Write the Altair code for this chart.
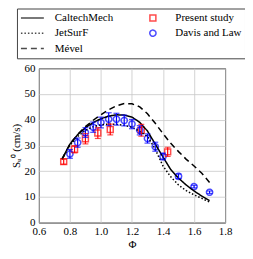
import altair as alt
import pandas as pd

# ---- data ----
phi_model = [0.75, 0.80, 0.85, 0.90, 0.95, 1.00, 1.05, 1.10, 1.15, 1.20,
             1.25, 1.30, 1.35, 1.40, 1.45, 1.50, 1.55, 1.60, 1.65, 1.70]
caltech = [24.8, 30.5, 34.2, 36.9, 38.9, 40.4, 41.4, 41.9, 41.8, 41.0,
           39.0, 35.6, 30.5, 25.5, 20.6, 17.3, 14.6, 12.3, 10.3, 8.5]
jetsurf = [24.6, 30.0, 33.5, 35.8, 37.3, 38.0, 38.3, 38.2, 37.8, 37.1,
           35.5, 33.5, 28.5, 22.0, 17.8, 14.6, 12.4, 10.8, 9.4, 8.0]
mevel = [24.8, 30.5, 34.3, 37.3, 39.8, 41.9, 43.9, 45.4, 46.3, 46.2,
         45.0, 42.3, 38.6, 34.6, 30.8, 27.6, 24.6, 22.0, 19.2, 15.6]
models = ["CaltechMech", "JetSurF", "Mével"]

phi_present = [0.76, 0.83, 0.90, 0.98, 1.06, 1.26, 1.43]
s_present = [23.7, 28.5, 32.6, 34.8, 36.2, 35.9, 27.5]
err_present = [1.0, 1.4, 2.0, 2.1, 2.1, 2.3, 1.8]

phi_davis = [0.80, 0.85, 0.90, 0.95, 1.00, 1.05, 1.10, 1.15, 1.20, 1.25,
             1.30, 1.35, 1.40, 1.50, 1.60, 1.70]
s_davis = [26.7, 31.1, 35.0, 37.1, 38.9, 40.2, 40.2, 39.7, 38.3, 35.9,
           32.7, 29.5, 25.7, 18.0, 14.0, 11.8]
err_davis = [1.7, 1.8, 1.9, 2.0, 2.1, 2.5, 2.3, 2.1, 1.8, 1.8,
             1.8, 1.75, 1.3, 0.9, 0.5, 0.5]
sources = ["Present study", "Davis and Law"]

x_ticks = [0.6, 0.8, 1.0, 1.2, 1.4, 1.6, 1.8]
y_ticks = [0, 10, 20, 30, 40, 50, 60]

# legend order (filled column by column, two columns)
names = models + sources
name_colors = ["black", "black", "black", "#ff0000", "#0000ff"]
SQUARE = "M-0.26,-0.26H0.26V0.26H-0.26Z"
CIRCLE = "M0.27,0A0.27,0.27 0 1,1 -0.27,0A0.27,0.27 0 1,1 0.27,0Z"
name_shapes = ["stroke", "stroke", "stroke", SQUARE, CIRCLE]
name_dashes = [[1, 0], [1.5, 2], [6, 4], [1, 0], [1, 0]]

# ---- tables ----
lines_df = pd.DataFrame(
    [{"phi": p, "S": v, "name": m}
     for m, vals in zip(models, [caltech, jetsurf, mevel])
     for p, v in zip(phi_model, vals)]
)
pts_df = pd.DataFrame(
    [{"phi": p, "S": s, "lo": s - e, "hi": s + e, "name": sources[0]}
     for p, s, e in zip(phi_present, s_present, err_present)]
    + [{"phi": p, "S": s, "lo": s - e, "hi": s + e, "name": sources[1]}
       for p, s, e in zip(phi_davis, s_davis, err_davis)]
)

FONT = "Liberation Serif"

xaxis = alt.Axis(values=x_ticks, format=".1f", title="Φ",
                 labelOverlap=False, labelFlush=False)
yaxis = alt.Axis(values=y_ticks, title="Sᵤ⁰ (cm/s)",
                 labelOverlap=False, labelFlush=False)
xscale = alt.Scale(domain=[0.6, 1.8], nice=False)
yscale = alt.Scale(domain=[0, 60], nice=False)


def X(field):
    return alt.X(field, scale=xscale, axis=xaxis)


def Y(field):
    return alt.Y(field, scale=yscale, axis=yaxis)


leg = alt.Legend(title=None, orient="none", legendX=-22, legendY=-60,
                 columns=2, columnPadding=27, rowPadding=2.5, clipHeight=12.5,
                 symbolSize=529, symbolStrokeWidth=1.5, labelOffset=10,
                 labelFont=FONT, labelFontSize=11, labelColor="black",
                 strokeColor="#444444", padding=3, zindex=2)

c_enc = alt.Color("name:N", scale=alt.Scale(domain=names, range=name_colors), legend=leg)
d_enc = alt.StrokeDash("name:N", scale=alt.Scale(domain=names, range=name_dashes), legend=leg)
s_enc = alt.Shape("name:N", scale=alt.Scale(domain=names, range=name_shapes), legend=leg)

err_color = alt.condition(alt.datum.name == sources[0],
                          alt.value("#ff0000"), alt.value("#0000ff"))

points = alt.Chart(pts_df).mark_point(filled=False, strokeWidth=1.5, size=529).encode(
    x=X("phi:Q"), y=Y("S:Q"),
    color=c_enc, shape=s_enc, strokeDash=d_enc,
)

lines = alt.Chart(lines_df).mark_line(strokeWidth=1.5).encode(
    x=X("phi:Q"), y=Y("S:Q"), color=c_enc, strokeDash=d_enc,
)

bars = alt.Chart(pts_df).mark_rule(strokeWidth=1.2).encode(
    x=X("phi:Q"), y=Y("lo:Q"), y2="hi:Q", color=err_color,
)
cap_lo = alt.Chart(pts_df).mark_tick(orient="horizontal", size=6, thickness=1.2).encode(
    x=X("phi:Q"), y=Y("lo:Q"), color=err_color,
)
cap_hi = alt.Chart(pts_df).mark_tick(orient="horizontal", size=6, thickness=1.2).encode(
    x=X("phi:Q"), y=Y("hi:Q"), color=err_color,
)

chart = alt.layer(points, lines, bars, cap_lo, cap_hi).properties(
    width=187, height=155,
    autosize=alt.AutoSizeParams(type="none"),
    padding={"left": 31, "top": 60, "right": 20, "bottom": 30},
).configure_view(
    stroke="black", strokeWidth=1
).configure_axis(
    labelFont=FONT, titleFont=FONT, labelFontSize=11, titleFontSize=11,
    labelColor="black", titleColor="black", titleFontWeight="normal",
    grid=True, gridColor="#c8c8c8", gridWidth=0.8,
    domain=False, ticks=False,
).configure_axisY(
    labelPadding=4, titlePadding=2,
).configure_axisX(
    labelPadding=3, titlePadding=2,
)

chart.save("out.html", embed_options={"renderer": "svg", "actions": False})
